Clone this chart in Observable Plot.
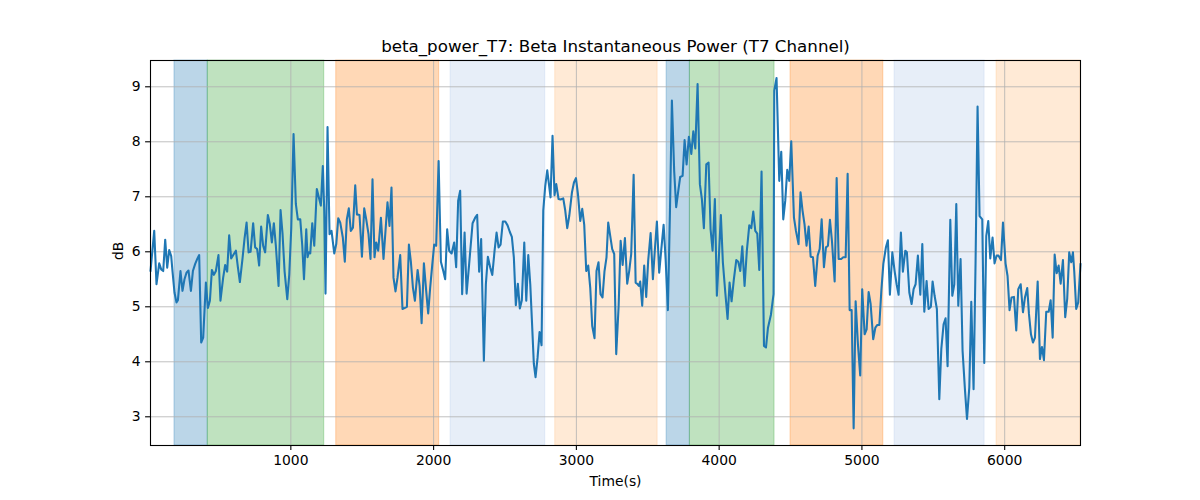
<!DOCTYPE html>
<html><head><meta charset="utf-8">
<script src="https://cdn.jsdelivr.net/npm/d3@7"></script>
<script src="https://cdn.jsdelivr.net/npm/@observablehq/plot@0.6"></script>
<style>body{margin:0;background:#fff}</style>
</head><body><div id="chart"></div>
<script>
const chartTitle = "beta_power_T7: Beta Instantaneous Power (T7 Channel)";
const xLabel = "Time(s)";
const yLabel = "dB";
const xTicks = [1000, 2000, 3000, 4000, 5000, 6000];
const yTicks = [3, 4, 5, 6, 7, 8, 9];

const timeS = [
17,43,59,78,92,106,120,134,148,162,171,185,199,209,227,241,255,269,283,300,314,330,346,358,372,386,405,419,433,447,461,475,493,507,526,540,554,568,582,601,615,629,643,662,676,690,704,718,736,750,764,778,792,806,820,839,853,867,881,895,914,928,942,956,975,989,1003,1019,1035,1049,1066,1080,1092,
1108,1117,1126,1136,1150,1164,1182,1196,1210,1224,1234,1243,1257,1271,1285,1304,1318,1332,1346,1364,1378,1392,1406,1420,1435,1451,1463,1481,1498,1514,1528,1544,1558,1572,1586,1598,1612,1631,1649,1663,1677,1691,1705,1719,1733,1747,1766,1782,1799,1813,1827,1841,1855,1869,1888,1902,1916,1932,1948,1962,1976,1990,2004,2018,2035,2051,2065,2081,2095,2109,2126,2144,2158,2172,2186,2200,
2217,2231,2249,2273,2291,2305,2319,2333,2352,2366,2380,2396,2411,2427,2441,2455,2469,2485,2502,2518,2534,2548,2562,2576,2590,2604,2618,2635,2649,2663,2677,2688,2702,2714,2728,2742,2756,2768,2782,2796,2805,2819,2833,2847,2859,2875,2889,2908,2922,2936,2950,2969,2983,2997,3011,3027,3041,3055,3069,3083,3097,3111,3127,3141,3155,3169,3183,3197,3211,3223,3237,3251,3265,3279,
3296,3310,3324,3340,3356,3370,3384,3401,3415,3429,3438,3447,3461,3475,3489,3503,3520,3536,3550,3564,3580,3594,3611,3625,3641,3655,3669,3685,3699,3714,3727,3744,3758,3772,3788,3805,3819,3833,3849,3865,3879,3893,3910,3926,3940,3954,3970,3984,3998,4012,4026,4043,4059,4073,4087,4103,4120,4134,4148,4162,4178,4194,4211,4225,4239,4253,4267,4281,4297,4314,4328,4342,4363,4381,
4386,4402,4421,4435,4449,4463,4477,4491,4505,4524,4538,4556,4570,4584,4598,4612,4627,4641,4657,4673,4690,4704,4718,4734,4748,4762,4776,4790,4809,4823,4837,4855,4869,4886,4900,4914,4928,4942,4956,4972,4988,5002,5019,5033,5047,5061,5079,5094,5108,5122,5136,5150,5168,5182,5196,5213,5229,5243,5257,5273,5287,5304,5315,5332,5348,5362,5376,5392,5409,5423,5437,5453,5467,
5483,5495,5509,5525,5542,5556,5572,5586,5600,5619,5633,5647,5661,5675,5691,5705,5722,5736,5752,5766,5782,5796,5810,5824,5843,5857,5871,5885,5899,5915,5929,5943,5957,5974,5988,6006,6020,6034,6048,6065,6081,6095,6112,6128,6142,6158,6170,6184,6198,6212,6231,6247,6261,6275,6291,6308,6322,6336,6350,6364,6378,6392,6408,6424,6438,6452,6466,6478,6487,6501,6515,6531
];

const powerDb = [
5.65,6.38,5.41,5.79,5.68,5.65,6.22,5.71,6.03,5.92,5.65,5.26,5.08,5.12,5.65,5.29,5.50,5.62,5.66,5.29,5.65,5.78,5.88,5.94,4.35,4.44,5.44,4.98,5.11,5.67,5.58,5.65,5.94,5.11,5.53,5.76,5.64,6.30,5.88,5.96,6.02,5.72,5.45,5.89,6.25,6.53,5.99,6.00,6.52,6.08,6.05,5.75,6.46,6.11,5.99,6.67,6.50,6.17,6.52,6.11,5.38,6.76,6.32,5.65,5.14,5.59,6.44,8.14,6.87,6.59,6.59,6.11,5.50,
6.41,5.90,5.99,5.97,6.52,6.11,7.14,6.99,6.84,7.56,6.75,5.24,8.27,6.32,6.38,5.97,6.14,6.61,6.53,6.26,5.82,6.59,6.79,6.38,6.44,7.21,6.68,6.67,5.91,6.79,6.59,6.32,5.87,7.32,5.90,6.17,6.02,6.62,5.87,6.38,6.90,6.47,7.17,5.53,5.28,5.53,5.94,4.96,4.98,5.00,6.13,5.81,5.35,5.11,5.67,5.38,4.70,5.79,5.29,4.88,5.35,5.75,6.13,6.11,7.65,5.82,5.68,5.50,6.41,6.02,5.97,6.17,5.72,6.93,7.11,5.23,
6.35,5.24,5.78,6.52,6.62,6.67,5.64,6.23,4.02,5.41,5.91,5.72,5.58,6.02,6.35,6.08,6.13,6.55,6.55,6.48,6.36,6.27,5.90,5.03,5.42,4.97,5.12,6.17,5.11,5.94,5.41,4.78,3.96,3.72,4.07,4.54,4.30,6.75,7.20,7.48,7.29,6.99,8.11,7.03,7.23,6.96,6.95,6.97,6.75,6.43,6.65,7.08,7.26,7.34,7.05,6.56,6.78,6.49,5.65,5.75,5.35,4.65,4.43,5.65,5.81,5.23,5.17,5.65,5.90,6.53,6.29,6.05,5.96,4.14,
5.02,6.20,5.76,6.25,5.42,5.65,5.96,7.40,5.44,5.41,5.38,5.46,5.02,5.75,5.18,5.84,6.34,5.50,6.05,6.55,5.62,6.02,6.49,5.87,4.94,6.68,8.75,7.47,6.81,7.11,7.36,7.38,8.03,7.59,8.09,7.78,8.19,7.88,9.05,7.23,6.96,6.43,7.59,7.62,6.41,6.02,6.96,5.20,5.90,6.67,5.81,5.26,4.78,5.44,5.10,5.50,5.85,5.82,5.65,6.10,5.38,6.02,6.48,6.43,6.73,6.38,6.33,5.67,7.46,4.29,4.26,4.62,4.86,5.23,
8.93,9.16,7.29,7.82,6.59,6.93,7.49,7.29,8.01,6.62,6.38,6.14,7.08,6.75,6.50,6.11,6.46,5.91,5.90,5.38,5.93,6.05,6.59,5.72,6.08,6.11,6.58,6.20,5.46,7.34,5.87,5.87,5.90,5.90,7.42,4.94,4.94,2.79,5.10,4.32,3.75,5.32,4.50,4.59,5.27,5.05,4.41,4.62,4.67,4.67,5.29,5.78,6.08,6.21,5.22,5.99,5.65,5.41,5.22,6.35,5.64,6.02,5.99,5.26,5.05,5.32,5.41,5.93,5.22,6.14,4.91,5.47,4.96,
5.00,5.46,5.20,4.96,3.32,4.23,4.68,4.79,3.92,6.58,5.20,5.41,6.87,5.02,5.87,4.20,3.48,2.96,3.53,5.09,3.50,5.81,8.64,6.65,6.59,3.98,6.29,6.56,5.88,6.26,5.79,5.93,5.93,5.85,6.53,5.79,5.56,4.94,5.17,5.18,4.57,5.32,5.41,4.90,5.17,5.34,4.87,4.50,4.35,4.44,5.46,4.05,4.27,4.03,4.91,4.91,5.12,4.44,5.95,5.61,5.75,5.42,5.85,4.81,5.15,5.99,5.81,5.99,5.65,4.96,5.08,5.78
];

const spanStart = [185, 418, 1318, 2119, 2852, 3632, 3795, 4500, 5229, 5943];
const spanEnd   = [418, 1234, 2039, 2782, 3569, 3795, 4388, 5150, 5859, 6531];
const spanKind  = ["a", "b", "c", "d", "e", "a", "b", "c", "d", "e"];

const kindColor = {a: "#1f77b4", b: "#2ca02c", c: "#ff7f0e", d: "#aec7e8", e: "#ffbb78"};
const series = timeS.map((t, i) => ({t, v: powerDb[i]}));
const spans = spanStart.map((s, i) => ({x1: s, x2: spanEnd[i], color: kindColor[spanKind[i]]}));

const chart = Plot.plot({
  width: 1200, height: 500,
  marginLeft: 150, marginRight: 120, marginTop: 60, marginBottom: 55,
  style: {fontFamily: "'DejaVu Sans', sans-serif", fontSize: "13.9px", color: "black", background: "white"},
  x: {domain: [timeS[0], timeS[timeS.length - 1]]},
  y: {domain: [2.478, 9.478]},
  color: {type: "identity"},
  marks: [
    Plot.rect(spans, {x1: "x1", x2: "x2", fill: "color", fillOpacity: 0.3, stroke: "color", strokeOpacity: 0.3, strokeWidth: 1}),
    Plot.gridX(xTicks, {stroke: "#b0b0b0", strokeOpacity: 1, strokeWidth: 0.8}),
    Plot.gridY(yTicks, {stroke: "#b0b0b0", strokeOpacity: 1, strokeWidth: 0.8}),
    Plot.line(series, {x: "t", y: "v", stroke: "#1f77b4", strokeWidth: 2.08}),
    Plot.axisX(xTicks, {tickSize: 4.9, tickPadding: 4.9, label: null, strokeWidth: 1.1, tickFormat: d => String(d)}),
    Plot.axisY(yTicks, {tickSize: 4.9, tickPadding: 4.9, label: null, strokeWidth: 1.1, tickFormat: d => String(d)}),
    Plot.frame({stroke: "black", strokeWidth: 1.1}),
    Plot.text([chartTitle], {text: d => d, frameAnchor: "top", dy: -14, fontSize: 16.7, lineAnchor: "middle"}),
    Plot.text([xLabel], {text: d => d, frameAnchor: "bottom", dy: 36, lineAnchor: "middle"}),
    Plot.text([yLabel], {text: d => d, frameAnchor: "left", dx: -32, dy: 7, rotate: -90, lineAnchor: "middle"})
  ]
});
document.getElementById("chart").appendChild(chart);
</script>
</body></html>
